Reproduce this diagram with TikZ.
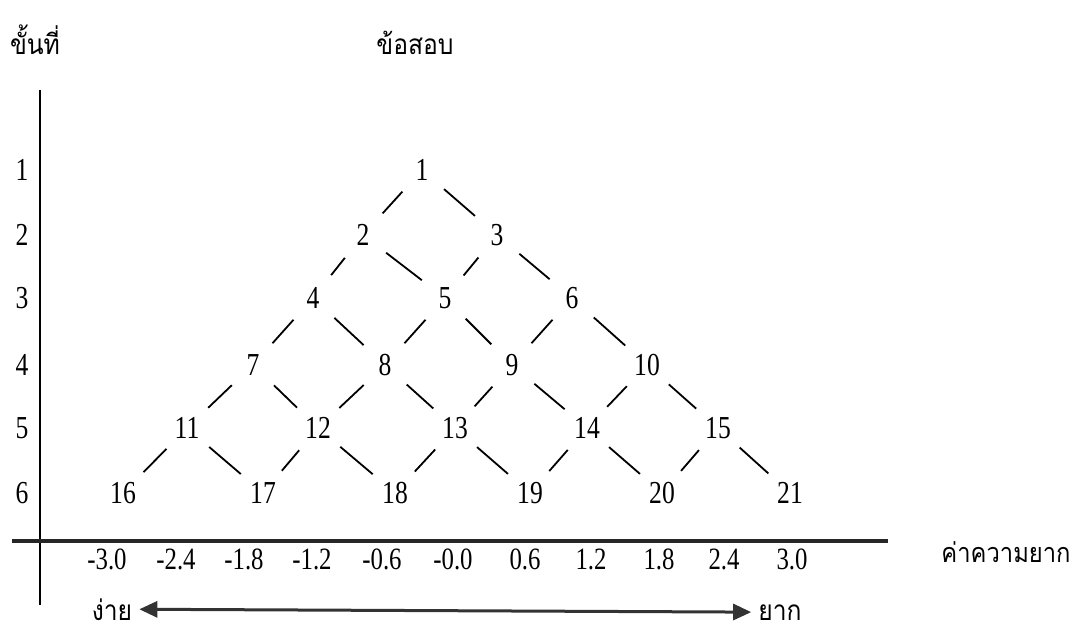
\documentclass[tikz,border=0pt]{standalone}
\usepackage{fontspec}
\setmainfont{Liberation Serif}
\newfontfamily\numfont[FakeStretch=0.8]{Liberation Serif}
\newfontfamily\thaifont[Script=Thai,FakeStretch=0.88]{Loma}
\usetikzlibrary{arrows.meta}
\tikzset{
  item/.style={circle,minimum size=58pt,inner sep=0pt,font=\numfont\fontsize{32}{34}\selectfont},
  rowlab/.style={font=\numfont\fontsize{32}{34}\selectfont},
  ticklab/.style={font=\numfont\fontsize{31}{34}\selectfont},
  thlab/.style={anchor=base,font=\thaifont\fontsize{28}{32}\selectfont},
  link/.style={line width=1.8pt},
  axis/.style={line width=3.5pt,black!85},
  scalearrow/.style={line width=3pt,black!80,shorten <=6pt,shorten >=6pt,
    {Triangle[length=18pt,width=16pt]}-{Triangle[length=18pt,width=16pt]}}
}
\begin{document}
\begin{tikzpicture}[x=1pt,y=-1pt]
\useasboundingbox (0,0) rectangle (1080,634);

\node[thlab] (hstep) at (35,55) {ขั้นที่};
\node[thlab] (hitem) at (415,55) {ข้อสอบ};

\coordinate (vtop) at (40,90);
\coordinate (vbot) at (40,605);
\draw[line width=2.2pt] (vtop) -- (vbot);

\node[rowlab] (r1) at (22,170) {1};
\node[rowlab] (r2) at (22,235) {2};
\node[rowlab] (r3) at (22,298) {3};
\node[rowlab] (r4) at (22,365) {4};
\node[rowlab] (r5) at (22,428) {5};
\node[rowlab] (r6) at (22,493) {6};

\node[item] (n1) at (422,170) {1};
\node[item] (n2) at (363,235) {2};
\node[item] (n3) at (497,235) {3};
\node[item] (n4) at (313,298) {4};
\node[item] (n5) at (445,298) {5};
\node[item] (n6) at (572,298) {6};
\node[item] (n7) at (253,365) {7};
\node[item] (n8) at (385,365) {8};
\node[item] (n9) at (512,365) {9};
\node[item] (n10) at (647,365) {10};
\node[item] (n11) at (187,428) {11};
\node[item] (n12) at (318,428) {12};
\node[item] (n13) at (455,428) {13};
\node[item] (n14) at (587,428) {14};
\node[item] (n15) at (718,428) {15};
\node[item] (n16) at (123,493) {16};
\node[item] (n17) at (263,493) {17};
\node[item] (n18) at (395,493) {18};
\node[item] (n19) at (530,493) {19};
\node[item] (n20) at (662,493) {20};
\node[item] (n21) at (790,493) {21};

\draw[link] (n1) -- (n2);  \draw[link] (n1) -- (n3);
\draw[link] (n2) -- (n4);  \draw[link] (n2) -- (n5);
\draw[link] (n3) -- (n5);  \draw[link] (n3) -- (n6);
\draw[link] (n4) -- (n7);  \draw[link] (n4) -- (n8);
\draw[link] (n5) -- (n8);  \draw[link] (n5) -- (n9);
\draw[link] (n6) -- (n9);  \draw[link] (n6) -- (n10);
\draw[link] (n7) -- (n11); \draw[link] (n7) -- (n12);
\draw[link] (n8) -- (n12); \draw[link] (n8) -- (n13);
\draw[link] (n9) -- (n13); \draw[link] (n9) -- (n14);
\draw[link] (n10) -- (n14); \draw[link] (n10) -- (n15);
\draw[link] (n11) -- (n16); \draw[link] (n11) -- (n17);
\draw[link] (n12) -- (n17); \draw[link] (n12) -- (n18);
\draw[link] (n13) -- (n18); \draw[link] (n13) -- (n19);
\draw[link] (n14) -- (n19); \draw[link] (n14) -- (n20);
\draw[link] (n15) -- (n20); \draw[link] (n15) -- (n21);

% difficulty scale
\coordinate (hleft) at (12,541);
\coordinate (hright) at (888,541);
\draw[axis] (hleft) -- (hright);

\node[ticklab] (t1) at (107,559) {-3.0};
\node[ticklab] (t2) at (176,559) {-2.4};
\node[ticklab] (t3) at (244,559) {-1.8};
\node[ticklab] (t4) at (312,559) {-1.2};
\node[ticklab] (t5) at (382,559) {-0.6};
\node[ticklab] (t6) at (453,559) {-0.0};
\node[ticklab] (t7) at (525,559) {0.6};
\node[ticklab] (t8) at (591,559) {1.2};
\node[ticklab] (t9) at (659,559) {1.8};
\node[ticklab] (t10) at (724,559) {2.4};
\node[ticklab] (t11) at (792,559) {3.0};

\node[thlab,font=\thaifont\fontsize{27}{30}\selectfont] (hdiff) at (1006,562) {ค่าความยาก};

\node[thlab,inner sep=1pt] (easy) at (112,620) {ง่าย};
\node[thlab,inner sep=1pt] (hard) at (780,620) {ยาก};
\draw[scalearrow] (easy.east) -- (hard.west);
\end{tikzpicture}
\end{document}
